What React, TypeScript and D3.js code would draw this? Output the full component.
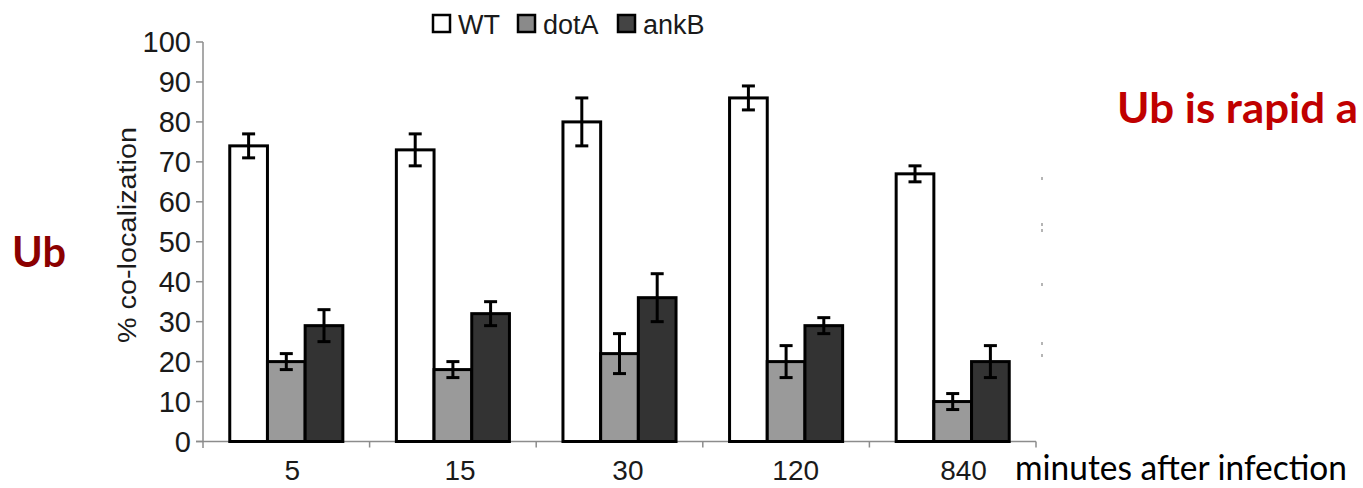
import React from "react";
import * as d3 from "d3";

const categories = ["5", "15", "30", "120", "840"];
const seriesNames = ["WT", "dotA", "ankB"];
const wtValues = [74, 73, 80, 86, 67];
const wtErrors = [3, 4, 6, 3, 2];
const dotAValues = [20, 18, 22, 20, 10];
const dotAErrors = [2, 2, 5, 4, 2];
const ankBValues = [29, 32, 36, 29, 20];
const ankBErrors = [4, 3, 6, 2, 4];
const yTicks = [0, 10, 20, 30, 40, 50, 60, 70, 80, 90, 100];
const seriesFill = ["#ffffff", "#9a9a9a", "#333333"];
const legendFill = ["#ffffff", "#8a8a8a", "#444444"];
const artifactYs = [177, 223, 229, 283, 342, 354];

const W = 1363;
const H = 488;

export default function App() {
  const values = [wtValues, dotAValues, ankBValues];
  const errors = [wtErrors, dotAErrors, ankBErrors];
  const x0 = d3.scaleBand<string>().domain(categories).range([203, 1036]).padding(0);
  const x1 = d3
    .scaleBand<string>()
    .domain(seriesNames)
    .range([0, x0.bandwidth()])
    .paddingInner(0)
    .paddingOuter(0.71);
  const y = d3.scaleLinear().domain([0, 100]).range([441.5, 42]);
  const axisColor = "#8c8c8c";
  const chartFont = "'Liberation Sans', Arial, sans-serif";
  const annFont = "Lato, 'Open Sans', sans-serif";
  const boundaries = categories.map((c) => (x0(c) as number) + x0.bandwidth());
  const legendX = [432, 517, 617];

  return (
    <svg
      width={W}
      height={H}
      style={{ position: "absolute", left: 0, top: 0, background: "#fff" }}
    >
      {/* y axis */}
      <line x1={203} x2={203} y1={y(100)} y2={448} stroke={axisColor} strokeWidth={1.5} />
      {yTicks.map((t) => (
        <g key={t}>
          <line x1={196} x2={203} y1={y(t)} y2={y(t)} stroke={axisColor} strokeWidth={1.5} />
          <text
            x={191}
            y={y(t)}
            dy="0.36em"
            textAnchor="end"
            fontFamily={chartFont}
            fontSize={29}
            fill="#1a1a1a"
          >
            {t}
          </text>
        </g>
      ))}
      {/* x axis */}
      <line x1={196} x2={1036} y1={y(0)} y2={y(0)} stroke={axisColor} strokeWidth={1.5} />
      {boundaries.map((b, i) => (
        <line key={i} x1={b} x2={b} y1={y(0)} y2={y(0) + 6} stroke={axisColor} strokeWidth={1.5} />
      ))}
      {/* bars */}
      {categories.map((c, ci) => (
        <g key={c} transform={`translate(${x0(c)},0)`}>
          {seriesNames.map((s, si) => {
            const v = values[si][ci];
            const e = errors[si][ci];
            const bx = x1(s) as number;
            const bw = x1.bandwidth();
            const cx = bx + bw / 2;
            return (
              <g key={s}>
                <rect
                  x={bx}
                  y={y(v)}
                  width={bw}
                  height={y(0) - y(v)}
                  fill={seriesFill[si]}
                  stroke="#000"
                  strokeWidth={3}
                />
                <line x1={cx} x2={cx} y1={y(v + e)} y2={y(v - e)} stroke="#000" strokeWidth={3} />
                <line x1={cx - 6.5} x2={cx + 6.5} y1={y(v + e)} y2={y(v + e)} stroke="#000" strokeWidth={3} />
                <line x1={cx - 6.5} x2={cx + 6.5} y1={y(v - e)} y2={y(v - e)} stroke="#000" strokeWidth={3} />
              </g>
            );
          })}
          <text
            x={x0.bandwidth() / 2 + 6 + ci * 1.2}
            y={480}
            textAnchor="middle"
            fontFamily={chartFont}
            fontSize={28}
            fill="#1a1a1a"
          >
            {c}
          </text>
        </g>
      ))}
      {/* y title */}
      <text
        transform={`translate(136,235) rotate(-90)`}
        textAnchor="middle"
        fontFamily={chartFont}
        fontSize={25}
        fill="#1a1a1a"
        textLength={216}
        lengthAdjust="spacingAndGlyphs"
      >
        % co-localization
      </text>
      {/* legend */}
      {seriesNames.map((s, i) => (
        <g key={s}>
          <rect x={legendX[i] + 1} y={15} width={17} height={17} fill={legendFill[i]} stroke="#000" strokeWidth={2.5} />
          <text
            x={legendX[i] + 26}
            y={34}
            fontFamily={chartFont}
            fontSize={27}
            fill="#1a1a1a"
          >
            {s}
          </text>
        </g>
      ))}
      {/* faint artifacts */}
      {artifactYs.map((ay, i) => (
        <rect key={i} x={1041} y={ay} width={2} height={3} fill="#b5b5b5" />
      ))}
      {/* annotations */}
      <text
        x={12}
        y={267}
        fontFamily={annFont}
        fontWeight="bold"
        fontSize={42}
        fill="#8b0000"
        textLength={54}
        lengthAdjust="spacingAndGlyphs"
      >
        Ub
      </text>
      <text
        x={1117}
        y={123}
        fontFamily={annFont}
        fontWeight="bold"
        fontSize={42}
        fill="#c00000"
        textLength={241}
        lengthAdjust="spacingAndGlyphs"
      >
        Ub is rapid a
      </text>
      <text
        x={1015}
        y={480}
        fontFamily={annFont}
        fontSize={34}
        fill="#000"
        textLength={332}
        lengthAdjust="spacingAndGlyphs"
      >
        minutes after infection
      </text>
    </svg>
  );
}
